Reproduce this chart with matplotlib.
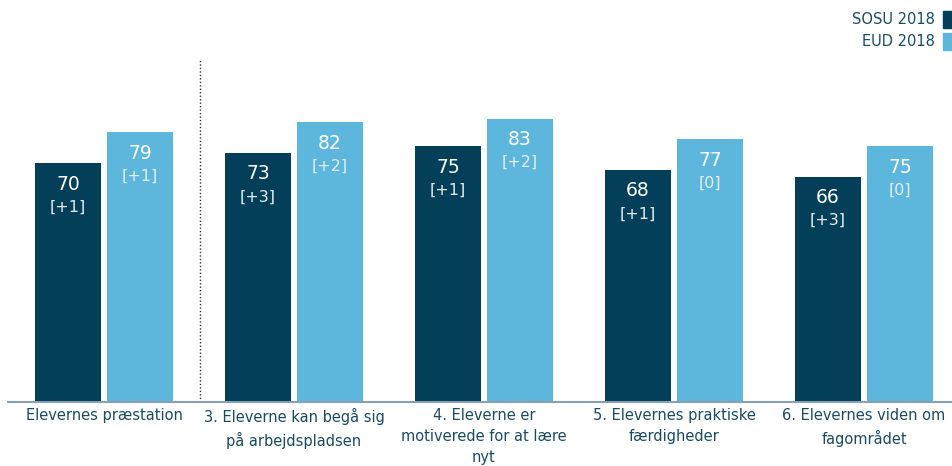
import matplotlib.pyplot as plt
import numpy as np

# data
categories = [
    "Elevernes præstation",
    "3. Eleverne kan begå sig\npå arbejdspladsen",
    "4. Eleverne er\nmotiverede for at lære\nnyt",
    "5. Elevernes praktiske\nfærdigheder",
    "6. Elevernes viden om\nfagområdet",
]
sosu = [70, 73, 75, 68, 66]
eud = [79, 82, 83, 77, 75]
sosu_change = ["[+1]", "[+3]", "[+1]", "[+1]", "[+3]"]
eud_change = ["[+1]", "[+2]", "[+2]", "[0]", "[0]"]

dark = "#033f58"
light = "#5db6dc"
text_col = "#1b4a5f"

fig = plt.figure(figsize=(9.52, 4.66), dpi=100)
ax = fig.add_axes([8 / 952, 64 / 466, 944 / 952, 402 / 466])

x = np.arange(len(categories))
w = 66 / 190
off = 36 / 190
b1 = ax.bar(x - off, sosu, w, color=dark)
b2 = ax.bar(x + off, eud, w, color=light)

for bars, vals, chg in [(b1, sosu, sosu_change), (b2, eud, eud_change)]:
    for r, v, c in zip(bars, vals, chg):
        cx = r.get_x() + r.get_width() / 2
        ax.annotate(str(v), (cx, v), xytext=(0, -21), textcoords="offset pixels",
                    ha="center", va="center", color="white", fontsize=13.5)
        ax.annotate(c, (cx, v), xytext=(0, -44), textcoords="offset pixels",
                    ha="center", va="center", color="#e3eef3", fontsize=11.5)

ax.set_xlim(-0.505, 4.463)
ax.set_ylim(0, 117.8)
ax.axvline(0.505, ymin=0, ymax=(402 - 60) / 402, color="#333333", lw=1, ls=(0, (1, 1.5)))

for s in ["top", "right", "left"]:
    ax.spines[s].set_visible(False)
ax.spines["bottom"].set_color("#8a9fb0")
ax.spines["bottom"].set_linewidth(1.5)
ax.set_yticks([])
ax.set_xticks(x)
ax.set_xticklabels(categories, fontsize=10.5, color=text_col, linespacing=1.5)
ax.tick_params(axis="x", length=0, pad=4)

# legend: text then square, right aligned
fig.text(935 / 952, 1 - 20 / 466, "SOSU 2018", ha="right", va="center", fontsize=10.5, color=text_col)
fig.text(935 / 952, 1 - 42 / 466, "EUD 2018", ha="right", va="center", fontsize=10.5, color=text_col)
fig.patches.append(plt.Rectangle((943 / 952, 1 - 28 / 466), 9 / 952, 17 / 466,
                                 transform=fig.transFigure, color=dark))
fig.patches.append(plt.Rectangle((943 / 952, 1 - 50 / 466), 9 / 952, 17 / 466,
                                 transform=fig.transFigure, color=light))

fig.savefig("out.png", dpi=100)
